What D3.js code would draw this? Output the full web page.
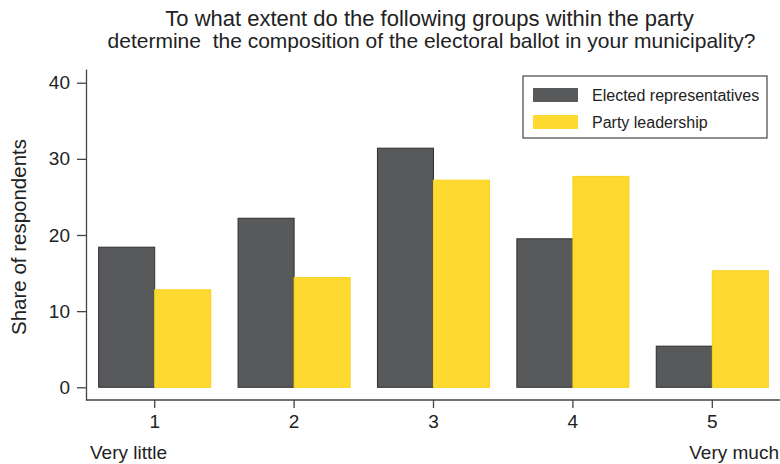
<!DOCTYPE html>
<html>
<head>
<meta charset="utf-8">
<script src="https://cdn.jsdelivr.net/npm/d3@7"></script>
<style>
  body { margin: 0; background: #fff; }
  svg text { font-family: "Liberation Sans", Arial, sans-serif; fill: #222; }
</style>
</head>
<body>
<div id="chart"></div>
<script>
// data
var categories = ["1", "2", "3", "4", "5"];
var seriesNames = ["Elected representatives", "Party leadership"];
var elected = [18.4, 22.2, 31.4, 19.5, 5.4];
var leadership = [12.8, 14.4, 27.2, 27.7, 15.3];
var yTicks = [0, 10, 20, 30, 40];
var titleLines = [
  "To what extent do the following groups within the party",
  "determine  the composition of the electoral ballot in your municipality?"
];

var svgWidth = 780;
var svgHeight = 464;

var fills = ["#58595b", "#fed930"];
var strokes = ["#2e2e2e", "#f7d21a"];

var svg = d3.select("#chart")
  .append("svg")
  .attr("width", svgWidth)
  .attr("height", svgHeight);

// scales
var x = d3.scaleBand()
  .domain(categories)
  .range([85, 782])
  .padding(0);

var y = d3.scaleLinear()
  .domain([-1.67, 41.8])
  .range([400, 69]);

var barW = x.bandwidth() * 0.402;

// title (keep the double space)
svg.append("g").selectAll("text")
  .data(titleLines)
  .enter()
  .append("text")
  .attr("x", (d, i) => i ? 431.5 : 429.5)
  .attr("y", (d, i) => 25.5 + i * 22)
  .attr("text-anchor", "middle")
  .style("font-size", (d, i) => i ? "21px" : "22px")
  .style("white-space", "pre")
  .text(d => d);

// bars
var series = [elected, leadership];
series.forEach(function(vals, s) {
  svg.append("g")
    .selectAll("rect")
    .data(vals)
    .enter()
    .append("rect")
    .attr("x", (d, i) => x(categories[i]) + x.bandwidth() / 2 - barW + s * barW)
    .attr("y", d => y(d))
    .attr("width", barW)
    .attr("height", d => y(0) - y(d))
    .attr("fill", fills[s])
    .attr("stroke", strokes[s])
    .attr("stroke-width", 1);
});

// y axis
var yAxis = svg.append("g")
  .attr("transform", "translate(86,0)")
  .call(d3.axisLeft(y).tickValues(yTicks).tickSize(9).tickSizeOuter(0).tickPadding(7));
yAxis.select(".domain").attr("stroke", "#444").attr("stroke-width", 1.3);
yAxis.selectAll(".tick line").attr("stroke", "#444").attr("stroke-width", 1.3);
yAxis.selectAll(".tick text")
  .style("font-size", "19px")
  .style("fill", "#222");

// x axis
var xAxis = svg.append("g")
  .attr("transform", "translate(0,400)")
  .call(d3.axisBottom(x).tickSize(8).tickSizeOuter(0).tickPadding(7));
xAxis.select(".domain").attr("stroke", "#444").attr("stroke-width", 1.3)
  .attr("d", "M86,0H780");
xAxis.selectAll(".tick line").attr("stroke", "#444").attr("stroke-width", 1.3);
xAxis.selectAll(".tick text")
  .style("font-size", "19px")
  .style("fill", "#222");

// end labels
svg.append("text")
  .attr("x", 90)
  .attr("y", 459)
  .style("font-size", "19px")
  .text("Very little");

svg.append("text")
  .attr("x", 779)
  .attr("y", 459)
  .attr("text-anchor", "end")
  .style("font-size", "19px")
  .text("Very much");

// y axis label
svg.append("text")
  .attr("transform", "translate(26,237) rotate(-90)")
  .attr("text-anchor", "middle")
  .style("font-size", "20.5px")
  .text("Share of respondents");

// legend
var legend = svg.append("g");
legend.append("rect")
  .attr("x", 523)
  .attr("y", 76)
  .attr("width", 244)
  .attr("height", 62)
  .attr("fill", "#fff")
  .attr("stroke", "#444")
  .attr("stroke-width", 1.2);

var items = legend.selectAll("g.item")
  .data(seriesNames)
  .enter()
  .append("g")
  .attr("transform", (d, i) => `translate(533,${88 + i * 27})`);

items.append("rect")
  .attr("width", 45)
  .attr("height", 14)
  .attr("fill", (d, i) => fills[i]);

items.append("text")
  .attr("x", 59)
  .attr("y", 12.5)
  .style("font-size", "16px")
  .text(d => d);
</script>
</body>
</html>
